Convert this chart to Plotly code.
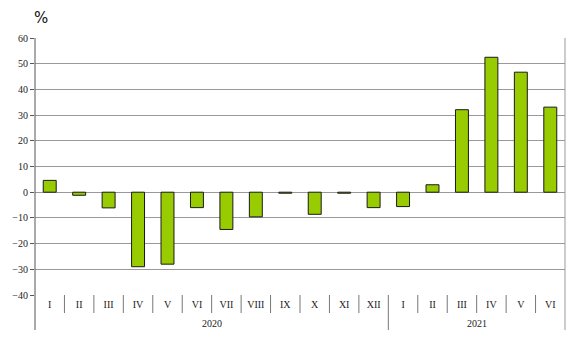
import plotly.graph_objects as go

months = ["I", "II", "III", "IV", "V", "VI", "VII", "VIII", "IX", "X", "XI", "XII",
          "I", "II", "III", "IV", "V", "VI"]
years = ["2020", "2021"]
year_counts = [12, 6]
values = [4.6, -1.2, -6.1, -29.0, -28.0, -6.0, -14.5, -9.6, -0.4, -8.6, -0.4, -6.0,
          -5.6, 2.9, 32.1, 52.5, 46.7, 33.1]
y_ticks = [-40, -30, -20, -10, 0, 10, 20, 30, 40, 50, 60]

W, H = 575, 345
ML, MR, MT, MB = 35, 10, 38, 50
plot_h = H - MT - MB

xs = list(range(len(months)))

fig = go.Figure()
fig.add_trace(go.Bar(
    x=xs, y=values, width=0.44,
    marker=dict(color="#99cc00", line=dict(color="#1a1a1a", width=1)),
    hoverinfo="y",
))

shapes = []
short = -18 / plot_h
long_ = -35 / plot_h
# left axis line and right border
shapes.append(dict(type="line", xref="paper", yref="paper", x0=0, x1=0, y0=long_, y1=1,
                   line=dict(color="#555555", width=1)))
shapes.append(dict(type="line", xref="paper", yref="paper", x0=1, x1=1, y0=long_, y1=1,
                   line=dict(color="#999999", width=1)))
# category separators
boundaries = []
acc = 0
for c in year_counts[:-1]:
    acc += c
    boundaries.append(acc)
for i in range(1, len(months)):
    y0 = long_ if i in boundaries else short
    shapes.append(dict(type="line", xref="x", yref="paper", x0=i - 0.5, x1=i - 0.5,
                       y0=y0, y1=0, line=dict(color="#777777", width=1)))

annotations = []
start = 0
for yr, c in zip(years, year_counts):
    center = start + (c - 1) / 2
    annotations.append(dict(x=center, xref="x", y=-28 / plot_h, yref="paper",
                            text=yr, showarrow=False,
                            font=dict(family="Liberation Serif", size=10, color="#222222"),
                            yanchor="middle"))
    start += c
annotations.append(dict(x=-3 / (W - ML - MR), xref="paper", y=MT - 20, yref="paper",
                        text="%", showarrow=False))
annotations[-1].update(dict(y=1 + 20 / plot_h, x=0.012, xanchor="center", yanchor="middle",
                            font=dict(family="DejaVu Sans", size=15, color="#111111")))

fig.update_layout(
    width=W, height=H,
    margin=dict(l=ML, r=MR, t=MT, b=MB),
    paper_bgcolor="white", plot_bgcolor="white",
    showlegend=False,
    bargap=0.56,
    shapes=shapes,
    annotations=annotations,
    xaxis=dict(
        range=[-0.5, len(months) - 0.5],
        tickvals=xs, ticktext=months,
        showgrid=False, zeroline=False, showline=False,
        ticks="", ticklabelstandoff=2,
        tickfont=dict(family="Liberation Serif", size=10, color="#222222"),
        fixedrange=True,
    ),
    yaxis=dict(
        range=[-40, 60], tickvals=y_ticks,
        showgrid=True, gridcolor="#999999", gridwidth=1,
        zeroline=True, zerolinecolor="#999999", zerolinewidth=1,
        showline=False,
        ticks="outside", ticklen=4, tickcolor="#555555",
        tickfont=dict(family="Liberation Serif", size=10, color="#222222"),
        fixedrange=True,
    ),
)

fig.write_html("out.html")
